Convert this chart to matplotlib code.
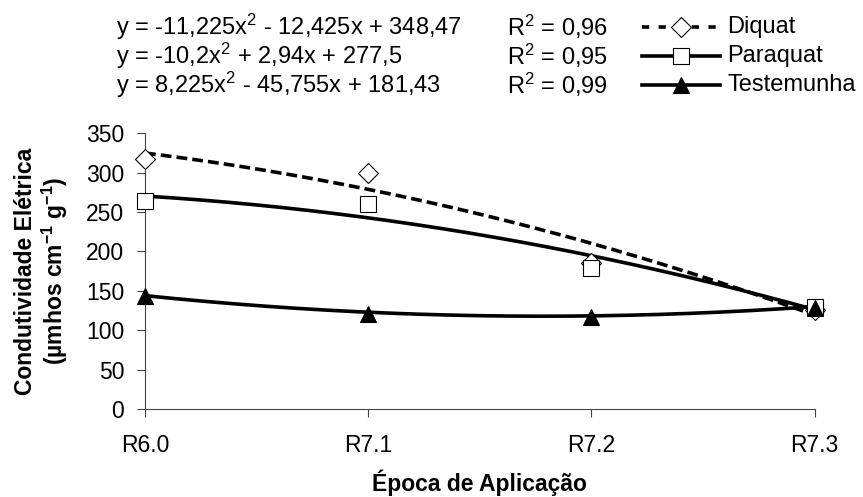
import numpy as np
import matplotlib.pyplot as plt
from matplotlib.lines import Line2D

plt.rcParams['font.family'] = ['Liberation Sans', 'DejaVu Sans']
plt.rcParams['mathtext.default'] = 'regular'

# Dados
epocas = ['R6.0', 'R7.1', 'R7.2', 'R7.3']
diquat = [317, 300, 185, 126]
paraquat = [264, 260, 179, 130]
testemunha = [143, 120, 117, 128]

# Coeficientes das linhas de tendência (a, b, c) e R²
coef_diquat = [-11.225, -12.425, 348.47]
coef_paraquat = [-10.2, 2.94, 277.5]
coef_testemunha = [8.225, -45.755, 181.43]
r2 = [0.96, 0.95, 0.99]

eq_texts = [
    'y = -11,225x$^2$ - 12,425x + 348,47',
    'y = -10,2x$^2$ + 2,94x + 277,5',
    'y = 8,225x$^2$ - 45,755x + 181,43',
]
nomes = ['Diquat', 'Paraquat', 'Testemunha']

fig = plt.figure(figsize=(8.63, 4.97), dpi=100)
ax = fig.add_axes([0.168, 0.177, 0.776, 0.555])

x = np.arange(1, len(epocas) + 1)
xs = np.linspace(1, 4, 200)

estilos = [
    dict(ls=(0, (3, 1.4)), ls_leg=(0, (2, 2.6)), marker='D', mfc='white', ms=10),
    dict(ls='-', ls_leg='-', marker='s', mfc='white', ms=11),
    dict(ls='-', ls_leg='-', marker='^', mfc='black', ms=11),
]
series = [diquat, paraquat, testemunha]
coefs = [coef_diquat, coef_paraquat, coef_testemunha]

for vals, cf, st in zip(series, coefs, estilos):
    ax.plot(xs, np.polyval(cf, xs), color='black', lw=2.6, ls=st['ls'], zorder=2)
    ax.plot(x, vals, ls='none', marker=st['marker'], mfc=st['mfc'], mec='black',
            ms=st['ms'], mew=0.8, zorder=3, clip_on=False)

ax.set_xlim(1, 4)
ax.set_ylim(0, 350)
ax.set_xticks(x)
ax.set_xticklabels(epocas)
ax.set_yticks(np.arange(0, 351, 50))
ax.tick_params(labelsize=16.5, length=6, width=0.8, color='#444444', pad=9)
ax.tick_params(axis='x', pad=12)
for s in ['top', 'right']:
    ax.spines[s].set_visible(False)
for s in ['left', 'bottom']:
    ax.spines[s].set_color('#444444')
    ax.spines[s].set_linewidth(0.8)

ax.set_ylabel('Condutividade Elétrica\n(µmhos cm$^{-1}$ g$^{-1}$)', fontsize=16.5, fontweight='bold',
              linespacing=1.15, va='center', ha='center')
ax.yaxis.set_label_coords((42 - 145) / 670, 0.5)
ax.set_xlabel('Época de Aplicação', fontsize=16.5, fontweight='bold', va='center')
ax.xaxis.set_label_coords(0.5, (409 - 483) / 276)

# Equações e legenda no topo
linhas_y = [1 - 27 / 497, 1 - 56 / 497, 1 - 85 / 497]
for i in range(3):
    yy = linhas_y[i]
    fig.text(116 / 863, yy, eq_texts[i], fontsize=17, va='center', ha='left')
    fig.text(507 / 863, yy, 'R$^2$ = ' + f'{r2[i]:.2f}'.replace('.', ','), fontsize=17, va='center', ha='left')
    st = estilos[i]
    x0, x1 = 642 / 863, 720 / 863
    fig.add_artist(Line2D([x0, x1], [yy, yy], transform=fig.transFigure, color='black', lw=2.6, ls=st['ls_leg']))
    fig.add_artist(Line2D([(x0 + x1) / 2], [yy], transform=fig.transFigure, ls='none', marker=st['marker'],
                          mfc=st['mfc'], mec='black', ms=st['ms'], mew=0.8))
    fig.text(727 / 863, yy, nomes[i], fontsize=17, va='center', ha='left')

fig.savefig('out.png', dpi=100)
